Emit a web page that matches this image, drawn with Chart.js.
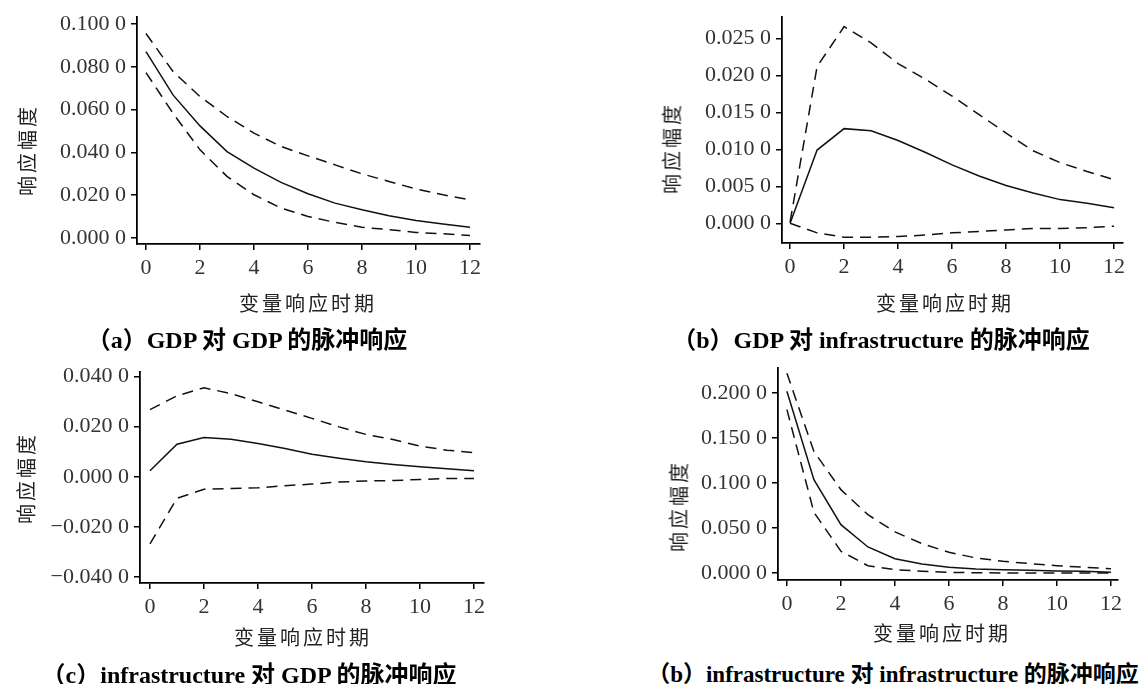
<!DOCTYPE html>
<html lang="zh">
<head>
    <meta charset="UTF-8">
    <title>脉冲响应</title>
    <script src="https://cdn.jsdelivr.net/npm/chart.js"></script>
    <style>
        body { margin: 0; background: #fff; }
        .page { position: relative; width: 1139px; height: 684px; overflow: hidden; }
        .panel { position: absolute; }
        .txt { position: absolute; white-space: nowrap; color: #222; }
        .xtitle, .ytitle {
            font-family: "Noto Sans CJK SC", sans-serif;
            font-size: 20px;
            letter-spacing: 3px;
            transform: translate(-50%, -50%);
        }
        .ytitle { transform: translate(-50%, -50%) rotate(-90deg); }
        .caption {
            font-family: "Liberation Serif", "Noto Sans CJK SC", serif;
            font-weight: bold;
            font-size: 24px;
            color: #000;
            transform: translate(-50%, -50%);
        }
    </style>
</head>
<body>
<div class="page">
    <div class="panel" style="left:0;top:0;width:500px;height:290px"><canvas id="cA" width="500" height="290"></canvas></div>
    <div class="panel" style="left:640px;top:0;width:499px;height:290px"><canvas id="cB" width="499" height="290"></canvas></div>
    <div class="panel" style="left:0;top:350px;width:500px;height:290px"><canvas id="cC" width="500" height="290"></canvas></div>
    <div class="panel" style="left:640px;top:350px;width:499px;height:290px"><canvas id="cD" width="499" height="290"></canvas></div>

    <div class="txt ytitle" style="left:26px;top:150px">响应幅度</div>
    <div class="txt ytitle" style="left:671px;top:148px">响应幅度</div>
    <div class="txt ytitle" style="left:25px;top:478px">响应幅度</div>
    <div class="txt ytitle" style="left:678px;top:506px">响应幅度</div>

    <div class="txt xtitle" style="left:308px;top:302px">变量响应时期</div>
    <div class="txt xtitle" style="left:945px;top:302px">变量响应时期</div>
    <div class="txt xtitle" style="left:303px;top:636px">变量响应时期</div>
    <div class="txt xtitle" style="left:942px;top:632px">变量响应时期</div>

    <div class="txt caption" style="left:247px;top:337px">（a）GDP 对 GDP 的脉冲响应</div>
    <div class="txt caption" style="left:881px;top:337px">（b）GDP 对 infrastructure 的脉冲响应</div>
    <div class="txt caption" style="left:249px;top:672px">（c）infrastructure 对 GDP 的脉冲响应</div>
    <div class="txt caption" style="left:893px;top:672px;font-size:23px">（b）infrastructure 对 infrastructure 的脉冲响应</div>
</div>

<script>
    const periods = [0, 1, 2, 3, 4, 5, 6, 7, 8, 9, 10, 11, 12];
    const xTicks = [0, 2, 4, 6, 8, 10, 12];

    // (a) GDP 对 GDP
    const aMid = [0.0871, 0.0669, 0.0524, 0.0404, 0.0327, 0.0260, 0.0207, 0.0163, 0.0132, 0.0104, 0.0082, 0.0065, 0.0050];
    const aUp  = [0.0956, 0.0778, 0.0661, 0.0568, 0.0490, 0.0428, 0.0384, 0.0342, 0.0300, 0.0264, 0.0229, 0.0202, 0.0179];
    const aLo  = [0.0773, 0.0583, 0.0412, 0.0288, 0.0202, 0.0140, 0.0101, 0.0073, 0.0050, 0.0039, 0.0026, 0.0020, 0.0012];
    const aTicks = [0, 0.02, 0.04, 0.06, 0.08, 0.10];

    // (b) GDP 对 infrastructure
    const bMid = [0.0000, 0.0099, 0.0128, 0.0125, 0.0112, 0.0096, 0.0079, 0.0064, 0.0051, 0.0041, 0.0032, 0.0027, 0.0021];
    const bUp  = [0.0002, 0.0212, 0.0266, 0.0244, 0.0216, 0.0195, 0.0172, 0.0147, 0.0122, 0.0098, 0.0082, 0.0070, 0.0059];
    const bLo  = [0.0000, -0.0013, -0.0019, -0.0019, -0.0018, -0.0016, -0.0013, -0.0011, -0.0009, -0.0007, -0.0007, -0.0006, -0.0004];
    const bTicks = [0, 0.005, 0.010, 0.015, 0.020, 0.025];

    // (c) infrastructure 对 GDP
    const cMid = [0.0024, 0.0130, 0.0157, 0.0150, 0.0133, 0.0113, 0.0090, 0.0074, 0.0060, 0.0049, 0.0040, 0.0032, 0.0024];
    const cUp  = [0.0268, 0.0323, 0.0355, 0.0332, 0.0299, 0.0266, 0.0233, 0.0199, 0.0169, 0.0149, 0.0122, 0.0106, 0.0096];
    const cLo  = [-0.0268, -0.0086, -0.0050, -0.0047, -0.0044, -0.0036, -0.0029, -0.0021, -0.0017, -0.0015, -0.0011, -0.0007, -0.0007];
    const cTicks = [-0.04, -0.02, 0, 0.02, 0.04];

    // (d) infrastructure 对 infrastructure
    const dMid = [0.2019, 0.1037, 0.0537, 0.0289, 0.0159, 0.0100, 0.0063, 0.0044, 0.0037, 0.0030, 0.0022, 0.0019, 0.0007];
    const dUp  = [0.2220, 0.1350, 0.0926, 0.0648, 0.0456, 0.0326, 0.0230, 0.0167, 0.0130, 0.0104, 0.0081, 0.0063, 0.0048];
    const dLo  = [0.1815, 0.0674, 0.0241, 0.0081, 0.0037, 0.0019, 0.0007, 0.0002, 0.0001, 0.0000, 0.0000, 0.0000, 0.0000];
    const dTicks = [0, 0.05, 0.10, 0.15, 0.20];

    function fmt(v) {
        if (Math.abs(v) < 1e-9) v = 0;
        const s = Math.abs(v).toFixed(4);
        return (v < 0 ? '\u2212' : '') + s.slice(0, -1) + ' ' + s.slice(-1);
    }

    function pts(ys) {
        return periods.map((x, i) => ({ x: x, y: ys[i] }));
    }

    function makePanel(id, box, yRange, yTicks, xRange, mid, up, lo) {
        const dash = { borderColor: '#111', borderWidth: 1.5, borderDash: [11, 7], pointRadius: 0, fill: false, tension: 0 };
        const axisStyle = {
            grid: { display: true, drawOnChartArea: false, drawTicks: true, tickLength: 6, color: '#000', lineWidth: 1.5 },
            border: { display: true, color: '#000', width: 1.8 }
        };
        new Chart(document.getElementById(id), {
            type: 'line',
            data: {
                datasets: [
                    Object.assign({ data: pts(up) }, dash),
                    { data: pts(mid), borderColor: '#111', borderWidth: 1.5, pointRadius: 0, fill: false, tension: 0 },
                    Object.assign({ data: pts(lo) }, dash)
                ]
            },
            options: {
                responsive: false,
                animation: false,
                layout: { padding: { top: box.top, right: box.right, left: 0, bottom: 0 } },
                plugins: { legend: { display: false }, tooltip: { enabled: false } },
                scales: {
                    x: Object.assign({
                        type: 'linear',
                        min: xRange[0],
                        max: xRange[1],
                        afterBuildTicks: s => { s.ticks = xTicks.map(v => ({ value: v })); },
                        afterFit: s => { s.height = box.xh; s.paddingLeft = 0; s.paddingRight = 0; },
                        ticks: {
                            color: '#333',
                            padding: 5,
                            maxRotation: 0,
                            font: { family: 'Liberation Serif', size: 22 },
                            callback: v => String(v)
                        }
                    }, axisStyle),
                    y: Object.assign({
                        min: yRange[0],
                        max: yRange[1],
                        afterBuildTicks: s => { s.ticks = yTicks.map(v => ({ value: v })); },
                        afterFit: s => { s.width = box.yw; s.paddingTop = 0; s.paddingBottom = 0; },
                        ticks: {
                            color: '#333',
                            padding: 5,
                            font: { family: 'Liberation Serif', size: 22 },
                            callback: v => fmt(v)
                        }
                    }, axisStyle)
                }
            }
        });
    }

    makePanel('cA', { yw: 137, top: 17, right: 20, xh: 46 }, [-0.0028, 0.1033], aTicks, [-0.333, 12.37], aMid, aUp, aLo);
    makePanel('cB', { yw: 142, top: 17, right: 16, xh: 47 }, [-0.00267, 0.0279], bTicks, [-0.3, 12.33], bMid, bUp, bLo);
    makePanel('cC', { yw: 140, top: 22, right: 16, xh: 57 }, [-0.0424, 0.0418], cTicks, [-0.37, 12.37], cMid, cUp, cLo);
    makePanel('cD', { yw: 138, top: 18, right: 21, xh: 60 }, [-0.0078, 0.2278], dTicks, [-0.33, 12.26], dMid, dUp, dLo);
</script>
</body>
</html>
